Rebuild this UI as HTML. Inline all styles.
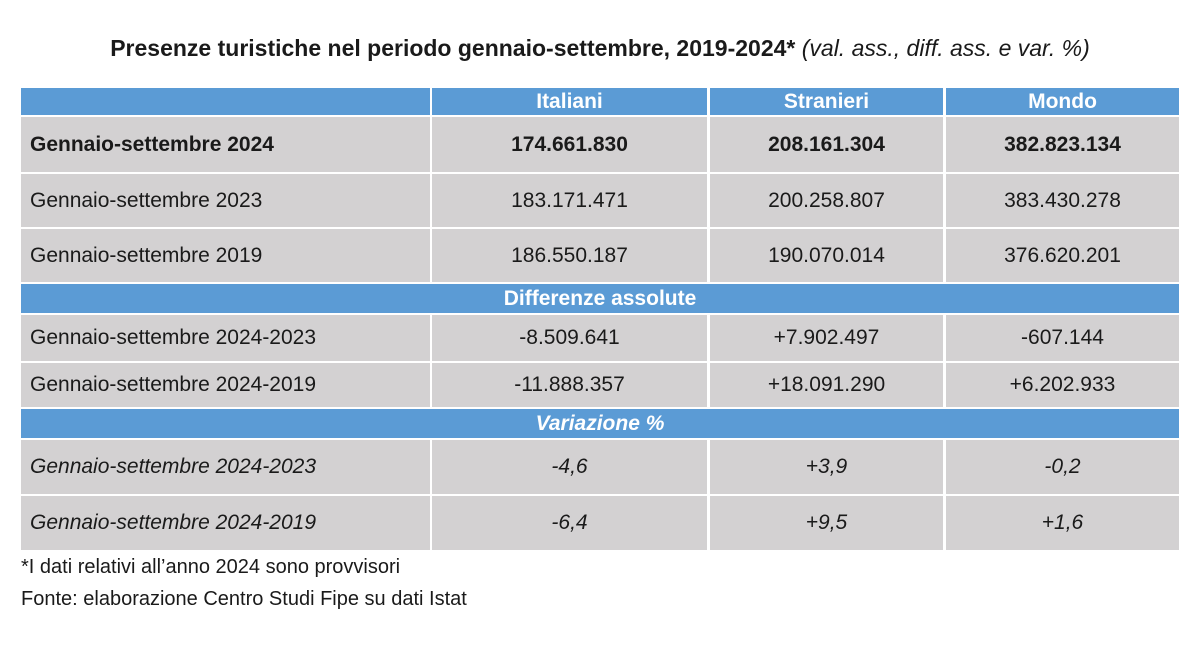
<!DOCTYPE html>
<html><head><meta charset="utf-8"><style>
body{margin:0;width:1200px;height:657px;background:#fff;font-family:"Liberation Sans",sans-serif;position:relative;overflow:hidden;color:#1a1a1a}
.c{position:absolute;display:flex;align-items:center;font-size:21px;box-sizing:border-box}
.g{background:#d3d1d2}
.b{background:#5b9bd5;color:#fff;font-weight:bold;justify-content:center}
.l{padding-left:9px}
.m{justify-content:center}
.t{position:absolute;font-size:20px;white-space:nowrap}
</style></head><body>
<div class="t" style="left:0;width:1200px;top:35px;text-align:center;font-size:23px"><b>Presenze turistiche nel periodo gennaio-settembre, 2019-2024*</b> <i>(val. ass., diff. ass. e var. %)</i></div>
<div id="tb"></div>
<script>
var cols=[[21,409],[432,275],[710,233],[946,233]];
var rows=[
[88,27,'h',['','Italiani','Stranieri','Mondo']],
[117,55,'gb',['Gennaio-settembre 2024','174.661.830','208.161.304','382.823.134']],
[174,53,'g',['Gennaio-settembre 2023','183.171.471','200.258.807','383.430.278']],
[229,53,'g',['Gennaio-settembre 2019','186.550.187','190.070.014','376.620.201']],
[284,29,'s','Differenze assolute'],
[315,46,'g',['Gennaio-settembre 2024-2023','-8.509.641','+7.902.497','-607.144']],
[363,44,'g',['Gennaio-settembre 2024-2019','-11.888.357','+18.091.290','+6.202.933']],
[409,29,'si','Variazione %'],
[440,54,'gi',['Gennaio-settembre 2024-2023','-4,6','+3,9','-0,2']],
[496,54,'gi',['Gennaio-settembre 2024-2019','-6,4','+9,5','+1,6']]];
var h='';
rows.forEach(function(r){
 if(r[2][0]=='s'){h+='<div class="c b" style="left:21px;width:1158px;top:'+r[0]+'px;height:'+r[1]+'px;'+(r[2]=='si'?'font-style:italic':'')+'">'+r[3]+'</div>';return;}
 cols.forEach(function(c,i){
  var cls=r[2]=='h'?'c b':'c g '+(i==0?'l':'m');
  var st='left:'+c[0]+'px;width:'+c[1]+'px;top:'+r[0]+'px;height:'+r[1]+'px;';
  if(r[2]=='gb')st+='font-weight:bold;';
  if(r[2]=='gi')st+='font-style:italic;';
  h+='<div class="'+cls+'" style="'+st+'">'+r[3][i]+'</div>';
 });
});
document.getElementById('tb').innerHTML=h;
</script>
<div class="t" style="left:21px;top:556px">*I dati relativi all’anno 2024 sono provvisori</div>
<div class="t" style="left:21px;top:588px">Fonte: elaborazione Centro Studi Fipe su dati Istat</div>
</body></html>
